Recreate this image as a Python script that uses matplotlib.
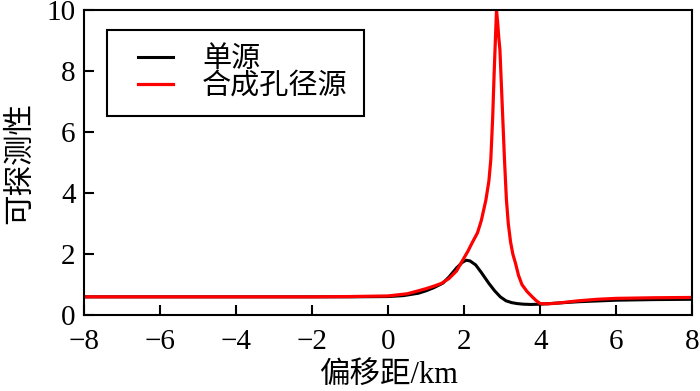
import matplotlib
matplotlib.use("Agg")
import matplotlib.pyplot as plt
from matplotlib.legend_handler import HandlerLine2D
from matplotlib.ticker import MultipleLocator

# offsets (km) and detectability
single_x = [-8, -2, -1, 0, 0.4, 0.8, 1.0, 1.2, 1.44, 1.6, 1.8, 1.95, 2.05, 2.15,
            2.3, 2.45, 2.65, 2.8, 2.95, 3.1, 3.25, 3.39, 3.55, 3.75, 4.0, 4.5,
            5.0, 6.0, 7.0, 8.0]
single_y = [0.6, 0.6, 0.6, 0.61, 0.64, 0.72, 0.8, 0.9, 1.05, 1.25, 1.55, 1.73, 1.8, 1.78,
            1.65, 1.4, 1.04, 0.8, 0.6, 0.47, 0.41, 0.38, 0.36, 0.35, 0.36, 0.4,
            0.44, 0.49, 0.51, 0.52]

synth_x = [-8, -4, -2, -1, 0, 0.5, 0.8, 1.0, 1.2, 1.4, 1.6, 1.8, 1.96, 2.1, 2.2,
           2.35, 2.45, 2.57, 2.65, 2.7, 2.75, 2.79, 2.82, 2.85, 2.88, 2.91, 2.94,
           2.98, 3.02, 3.06, 3.11, 3.16, 3.22, 3.28, 3.35, 3.43, 3.52, 3.65, 3.79,
           3.9, 4.0, 4.2, 4.5, 5.0, 5.5, 6.0, 7.0, 8.0]
synth_y = [0.6, 0.6, 0.6, 0.61, 0.63, 0.7, 0.8, 0.87, 0.95, 1.04, 1.2, 1.45, 1.8, 2.1, 2.35,
           2.7, 3.1, 3.77, 4.4, 5.1, 6.5, 8.0, 9.0, 10.0, 9.6, 9.1, 8.7,
           7.5, 6.3, 5.1, 3.8, 3.0, 2.4, 2.0, 1.7, 1.3, 1.0, 0.78, 0.6,
           0.47, 0.38, 0.37, 0.4, 0.47, 0.52, 0.55, 0.57, 0.58]

labels = ["单源", "合成孔径源"]
fonts = ["Liberation Serif", "Noto Sans CJK SC", "DejaVu Sans"]

plt.rcParams["font.family"] = fonts
plt.rcParams["axes.unicode_minus"] = True

fig = plt.figure(figsize=(7.0, 3.91), dpi=100)
ax = fig.add_axes([0.12, 0.194, 0.869, 0.78])

ax.plot(single_x, single_y, color="black", lw=2.2, label=labels[0])
ax.plot(synth_x, synth_y, color="#ff0000", lw=2.3, label=labels[1])

ax.set_xlim(-8, 8)
ax.set_ylim(0, 10)
ax.xaxis.set_major_locator(MultipleLocator(2))
ax.yaxis.set_major_locator(MultipleLocator(2))
ax.tick_params(axis="both", direction="in", length=7, width=1.5, labelsize=21,
               top=False, right=False)
ax.tick_params(axis="x", pad=10)
ax.tick_params(axis="y", pad=6)
for spine in ax.spines.values():
    spine.set_linewidth(1.5)

ax.set_xlabel("偏移距/km", fontsize=22, labelpad=4)
ax.set_ylabel("可探测性", fontsize=22, labelpad=8)

# shift the legend handles right a bit, like the original
leg = ax.legend(loc="upper left", bbox_to_anchor=(0.038, 0.934), borderaxespad=0,
                fontsize=21, fancybox=False, edgecolor="black", framealpha=1,
                handlelength=1.7, handletextpad=1.0, borderpad=0.55,
                labelspacing=0.0,
                handler_map={plt.Line2D: HandlerLine2D(xpad=0.5)})
leg.get_frame().set_linewidth(1.5)

fig.savefig("out.png", dpi=100)
